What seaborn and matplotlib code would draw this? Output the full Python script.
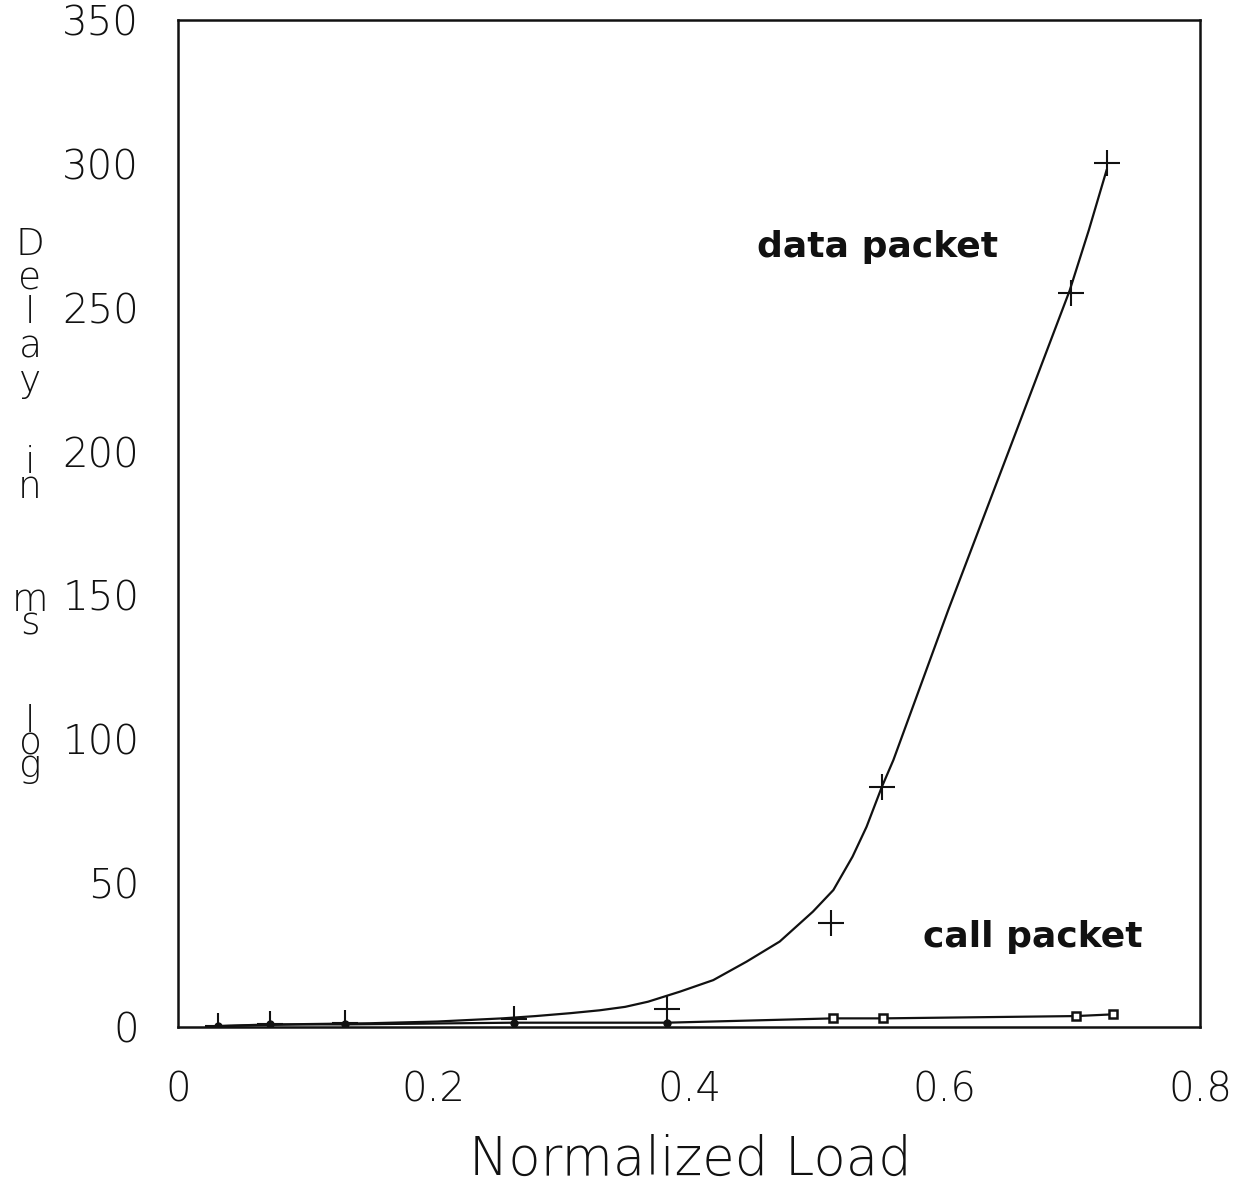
import matplotlib
matplotlib.use("Agg")
import matplotlib.pyplot as plt
import numpy as np
import pandas as pd
import seaborn as sns

# Fitted delay curve for data packets
curve_load = [0.031, 0.098, 0.150, 0.203, 0.254, 0.280, 0.307, 0.330, 0.350,
              0.368, 0.383, 0.393, 0.419, 0.445, 0.471, 0.497, 0.513, 0.528,
              0.539, 0.551, 0.560, 0.603, 0.651, 0.698, 0.713, 0.727]
curve_delay = [0.3, 1.0, 1.3, 1.9, 3.0, 3.8, 4.8, 5.8, 7.0,
               8.8, 10.9, 12.3, 16.3, 22.7, 29.7, 40.1, 47.6, 59.2,
               69.6, 83.5, 92.8, 145.0, 201.0, 256.0, 277.0, 298.0]

# Measured data packet delays
data_load = [0.031, 0.072, 0.131, 0.263, 0.383, 0.511, 0.551, 0.699, 0.7275]
data_delay = [0.4, 0.9, 1.3, 2.8, 6.3, 36.0, 83.5, 255.0, 300.2]

# Measured call packet delays
call_load = [0.031, 0.072, 0.131, 0.263, 0.383, 0.513, 0.552, 0.703, 0.732]
call_delay = [0.3, 0.9, 0.9, 1.5, 1.5, 3.0, 3.0, 3.8, 4.4]
call_kind = ["dot", "dot", "dot", "dot", "dot", "box", "box", "box", "box"]

x_ticks = [0, 0.2, 0.4, 0.6, 0.8]
x_tick_labels = ["0", "0.2", "0.4", "0.6", "0.8"]
y_ticks = [0, 50, 100, 150, 200, 250, 300, 350]
x_label = "Normalized Load"
y_label = "Delay in ms log"

sns.set_style("white")
plt.rcParams["font.family"] = ["DejaVu Sans"]

curve_df = pd.DataFrame({"load": curve_load, "delay": curve_delay})
data_df = pd.DataFrame({"load": data_load, "delay": data_delay})
call_df = pd.DataFrame({"load": call_load, "delay": call_delay, "kind": call_kind})

fig = plt.figure(figsize=(12.5, 11.85), dpi=100)
ax = fig.add_axes([178 / 1250, 1 - 1027 / 1185, (1200 - 178) / 1250, (1027 - 20) / 1185])

ink = "#111111"
sns.lineplot(data=curve_df, x="load", y="delay", ax=ax, color=ink, lw=1.6,
             sort=False, estimator=None)
sns.lineplot(data=call_df, x="load", y="delay", ax=ax, color=ink, lw=1.6,
             sort=False, estimator=None)
ax.plot(data_df["load"], data_df["delay"], ls="none", marker="+", ms=19,
        mew=1.5, color=ink)
dots = call_df[call_df["kind"] == "dot"]
boxes = call_df[call_df["kind"] == "box"]
ax.plot(dots["load"], dots["delay"], ls="none", marker="o", ms=5, color=ink)
ax.plot(boxes["load"], boxes["delay"], ls="none", marker="s", ms=5.5,
        mfc="white", mec=ink, mew=1.8)

ax.set_xlim(0, 0.8)
ax.set_ylim(0, 350)
ax.set_xticks(x_ticks)
ax.set_xticklabels(x_tick_labels)
ax.set_yticks(y_ticks)
ax.set_xlabel("")
ax.set_ylabel("")
for s in ax.spines.values():
    s.set_visible(True)
    s.set_color(ink)
    s.set_linewidth(1.8)
ax.tick_params(axis="both", direction="out", color=ink, width=1.6,
               labelcolor=ink, labelsize=29)
ax.tick_params(axis="x", length=13, pad=18)
ax.tick_params(axis="y", length=14, pad=14)
for lab in ax.get_xticklabels() + ax.get_yticklabels():
    lab.set_fontweight(200)

fig.text(690 / 1250, 1 - 1160 / 1185, x_label, ha="center", va="center",
         fontsize=38, fontweight=200, color=ink)

# vertical stacked y-axis title: each word is one column of letters
word_rows = [313, 475, 612, 744]
word_spacing = [0.97, 0.62, 0.58, 0.55]
for word, row, ls in zip(y_label.split(" "), word_rows, word_spacing):
    fig.text(30 / 1250, 1 - row / 1185, "\n".join(word), ha="center",
             va="center", multialignment="center", linespacing=ls,
             fontsize=27, fontweight=200, color=ink)

ax.text(0.453, 267.6, "data packet", ha="left", va="baseline",
        fontsize=26, fontweight="bold", color=ink)
ax.text(0.583, 27.8, "call packet", ha="left", va="baseline",
        fontsize=26, fontweight="bold", color=ink)

fig.savefig("out.png", dpi=100, facecolor="white")
